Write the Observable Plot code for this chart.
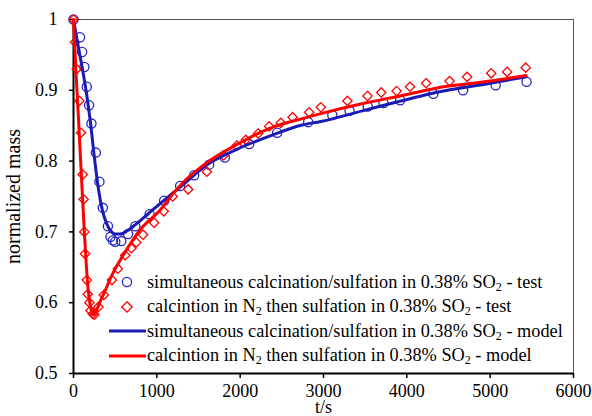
<!DOCTYPE html>
<html>
<head>
<meta charset="utf-8">
<script src="https://cdn.jsdelivr.net/npm/d3@7"></script>
<script src="https://cdn.jsdelivr.net/npm/@observablehq/plot@0.6"></script>
<style>
  html, body { margin: 0; padding: 0; background: #fff; }
  #wrap { position: relative; width: 592px; height: 416px; overflow: hidden; font-family: "Liberation Serif", "Times New Roman", serif; }
  #legend { position: absolute; left: 105px; top: 270px; font-size: 18.3px; color: #000; }
  #legend .row { height: 24.5px; display: flex; align-items: center; white-space: nowrap; }
  #legend svg { width: 42px; height: 24px; flex: none; }
  #legend sub { font-size: 12px; vertical-align: -3px; line-height: 0; }
</style>
</head>
<body>
<div id="wrap"></div>
<script>
// ---- data ----
const xTicks = [0, 1000, 2000, 3000, 4000, 5000, 6000];
const yTicks = [0.5, 0.6, 0.7, 0.8, 0.9, 1.0];

// simultaneous calcination/sulfation - test (circles)
const simTestT = [0, 78, 103, 130, 159, 187, 215, 268, 311, 352, 413, 444, 473, 501, 573, 654, 742, 914, 1088, 1280, 1448, 1628, 1816, 2108, 2443, 2816, 3106, 3313, 3531, 3720, 3920, 4318, 4675, 5066, 5437];
const simTestM = [1.000, 0.975, 0.954, 0.933, 0.905, 0.879, 0.853, 0.812, 0.771, 0.734, 0.708, 0.693, 0.688, 0.686, 0.687, 0.697, 0.708, 0.725, 0.744, 0.765, 0.780, 0.795, 0.805, 0.824, 0.840, 0.855, 0.865, 0.871, 0.877, 0.882, 0.886, 0.895, 0.900, 0.907, 0.912];

// calcination in N2 then sulfation - test (diamonds)
const n2TestT = [0, 18, 38, 70, 90, 111, 122, 130, 139, 159, 171, 191, 203, 231, 251, 299, 364, 461, 533, 621, 694, 754, 835, 967, 1083, 1191, 1376, 1600, 1800, 1960, 2068, 2216, 2348, 2488, 2629, 2828, 2968, 3287, 3528, 3693, 3877, 4038, 4231, 4513, 4723, 5012, 5203, 5427];
const n2TestM = [1.000, 0.968, 0.930, 0.885, 0.840, 0.781, 0.746, 0.700, 0.669, 0.632, 0.612, 0.600, 0.589, 0.584, 0.583, 0.594, 0.611, 0.632, 0.648, 0.667, 0.677, 0.685, 0.696, 0.713, 0.729, 0.750, 0.760, 0.785, 0.808, 0.822, 0.830, 0.839, 0.849, 0.854, 0.862, 0.869, 0.876, 0.885, 0.892, 0.897, 0.899, 0.905, 0.910, 0.913, 0.919, 0.924, 0.926, 0.932];

// simultaneous calcination/sulfation - model
const simModelT = [0, 50, 100, 150, 200, 250, 300, 350, 400, 450, 500, 560, 650, 750, 900, 1100, 1300, 1568, 1968, 2368, 2744, 2968, 3500, 4000, 4347, 5000, 5430];
const simModelM = [1.000, 0.966, 0.935, 0.900, 0.858, 0.806, 0.760, 0.729, 0.711, 0.701, 0.697, 0.697, 0.702, 0.711, 0.726, 0.746, 0.765, 0.792, 0.817, 0.836, 0.851, 0.856, 0.872, 0.887, 0.897, 0.910, 0.919];

// calcination in N2 then sulfation - model
const n2ModelT = [0, 30, 60, 90, 110, 130, 150, 175, 200, 230, 260, 300, 372, 450, 550, 654, 800, 1048, 1168, 1300, 1568, 1968, 2368, 2744, 2968, 3500, 4000, 4347, 5000, 5430];
const n2ModelM = [1.000, 0.925, 0.860, 0.790, 0.745, 0.700, 0.660, 0.620, 0.597, 0.583, 0.585, 0.596, 0.615, 0.636, 0.658, 0.678, 0.703, 0.732, 0.750, 0.768, 0.795, 0.824, 0.847, 0.860, 0.867, 0.882, 0.894, 0.903, 0.913, 0.921];

const legendLabels = [
  "simultaneous calcination/sulfation in 0.38% SO<sub>2</sub> - test",
  "calcintion in N<sub>2</sub> then sulfation in 0.38% SO<sub>2</sub> - test",
  "simultaneous calcination/sulfation in 0.38% SO<sub>2</sub> - model",
  "calcintion in N<sub>2</sub> then sulfation in 0.38% SO<sub>2</sub> - model"
];

const blueDot = "#2424c8", blueLine = "#1a1ab4", red = "#ff0000";
const serif = "'Liberation Serif', 'Times New Roman', serif";

const zip = (T, M) => T.map((t, i) => ({t, m: M[i]}));
const simTest = zip(simTestT, simTestM);
const n2Test = zip(n2TestT, n2TestM);
const simModel = zip(simModelT, simModelM);
const n2Model = zip(n2ModelT, n2ModelM);

const chart = Plot.plot({
  width: 592,
  height: 416,
  marginLeft: 73,
  marginRight: 19,
  marginTop: 19,
  marginBottom: 43,
  style: {fontFamily: serif, fontSize: "18px", color: "#000", background: "#fff"},
  x: {domain: [0, 6000]},
  y: {domain: [0.5, 1]},
  marks: [
    Plot.frame({stroke: "#555", strokeWidth: 1}),
    Plot.axisX({ticks: xTicks, tickSize: 5, tickPadding: 6, strokeWidth: 1.5, tickFormat: d => String(d), fontSize: 18, label: null}),
    Plot.axisX({ticks: [], tickSize: 0, fontSize: 18, label: "t/s", labelAnchor: "center", labelArrow: "none", labelOffset: 39}),
    Plot.axisY({ticks: yTicks, tickSize: 4, tickPadding: 12, strokeWidth: 1.5, tickFormat: d => d === 1 ? "1" : d.toFixed(1), fontSize: 18, label: null}),
    Plot.axisY({ticks: [], tickSize: 0, fontSize: 20, label: "normalized mass", labelAnchor: "center", labelArrow: "none", labelOffset: 68}),
    Plot.ruleX([0], {stroke: "#000", strokeWidth: 2}),
    Plot.ruleY([0.5], {stroke: "#000", strokeWidth: 2}),
    Plot.dot(simTest, {x: "t", y: "m", r: 4.6, symbol: "circle", stroke: blueDot, strokeWidth: 1.3, fill: "none"}),
    Plot.dot(n2Test, {x: "t", y: "m", r: 4.2, symbol: "diamond2", stroke: red, strokeWidth: 1.3, fill: "none"}),
    Plot.line(simModel, {x: "t", y: "m", stroke: blueLine, strokeWidth: 3, curve: "monotone-x"}),
    Plot.line(n2Model, {x: "t", y: "m", stroke: red, strokeWidth: 3, curve: "monotone-x"})
  ]
});

const wrap = document.getElementById("wrap");
wrap.appendChild(chart);

const symbols = [
  `<circle cx="22" cy="12" r="4.6" fill="none" stroke="${blueDot}" stroke-width="1.3"/>`,
  `<path d="M22,6.8L27.2,12L22,17.2L16.8,12Z" fill="none" stroke="${red}" stroke-width="1.3"/>`,
  `<line x1="4" x2="41" y1="12" y2="12" stroke="${blueLine}" stroke-width="3"/>`,
  `<line x1="4" x2="41" y1="12" y2="12" stroke="${red}" stroke-width="3"/>`
];
const legend = document.createElement("div");
legend.id = "legend";
legend.innerHTML = legendLabels.map((l, i) =>
  `<div class="row"><svg viewBox="0 0 42 24">${symbols[i]}</svg><span>${l}</span></div>`).join("");
wrap.appendChild(legend);
</script>
</body>
</html>
